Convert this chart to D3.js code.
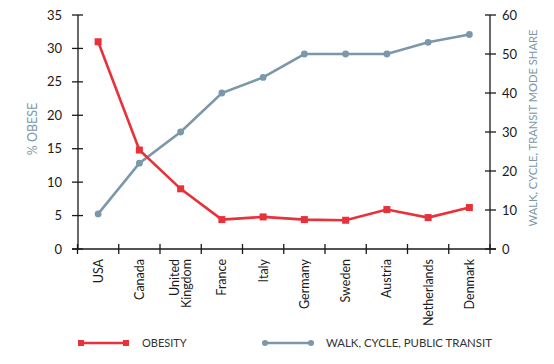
<!DOCTYPE html>
<html>
<head>
<meta charset="utf-8">
<script src="https://cdn.jsdelivr.net/npm/d3@7"></script>
<style>
  body { margin: 0; background: #fff; }
  text { font-family: Lato, "Open Sans", sans-serif; }
</style>
</head>
<body>
<script>
// data
var countries = ["USA", "Canada", "United Kingdom", "France", "Italy", "Germany", "Sweden", "Austria", "Netherlands", "Denmark"];
var obesity = [31.0, 14.8, 9.0, 4.4, 4.8, 4.4, 4.3, 5.9, 4.7, 6.2];
var walkCycleTransit = [9, 22, 30, 40, 44, 50, 50, 50, 53, 55];
var leftTicks = [0, 5, 10, 15, 20, 25, 30, 35];
var rightTicks = [0, 10, 20, 30, 40, 50, 60];

var red = "#e8313b", blue = "#7b97aa", ink = "#1a1a1a";

var svg = d3.select("body").append("svg")
  .attr("width", 554)
  .attr("height", 364);

var x = d3.scaleBand().domain(countries).range([77.5, 490]);
var yLeft = d3.scaleLinear().domain([0, 35]).range([249, 15]);
var yRight = d3.scaleLinear().domain([0, 60]).range([249, 15]);
var cx = function (d, i) { return x(countries[i]) + x.bandwidth() / 2; };

// x axis with crossing ticks
var xAxis = svg.append("g").attr("transform", "translate(0,249)");
xAxis.append("line").attr("x1", 72).attr("x2", 496).attr("stroke", ink).attr("stroke-width", 1.3);
xAxis.selectAll(".tick")
  .data(x.domain().map(function (d) { return x(d); }).concat([490]))
  .enter().append("line")
  .attr("x1", function (d) { return d; }).attr("x2", function (d) { return d; })
  .attr("y1", -5).attr("y2", 5)
  .attr("stroke", ink).attr("stroke-width", 1.3);

var labels = xAxis.selectAll(".lbl")
  .data(countries)
  .enter().append("text")
  .attr("transform", function (d) { return "translate(" + (x(d) + x.bandwidth() / 2) + ",10) rotate(-90)"; })
  .attr("text-anchor", "end")
  .attr("font-size", 12.5)
  .attr("fill", ink);
labels.each(function (d) {
  var words = d.split(" ");
  var t = d3.select(this);
  words.forEach(function (w, k) {
    t.append("tspan").attr("x", 0)
      .attr("dy", k === 0 ? (words.length > 1 ? "-0.15em" : "0.35em") : "0.95em")
      .text(w);
  });
});

// left axis
var gl = svg.append("g").attr("transform", "translate(78,0)");
gl.append("line").attr("y1", 15).attr("y2", 249).attr("stroke", ink).attr("stroke-width", 1.3);
gl.selectAll(".t").data(leftTicks).enter().append("line")
  .attr("x1", -6).attr("x2", 5)
  .attr("y1", yLeft).attr("y2", yLeft)
  .attr("stroke", ink).attr("stroke-width", 1.3);
gl.selectAll(".l").data(leftTicks).enter().append("text")
  .attr("x", -16).attr("y", yLeft).attr("dy", "0.35em")
  .attr("text-anchor", "end").attr("font-size", 13).attr("fill", ink)
  .text(function (d) { return d; });

// right axis
var gr = svg.append("g").attr("transform", "translate(490,0)");
gr.append("line").attr("y1", 15).attr("y2", 249).attr("stroke", ink).attr("stroke-width", 1.3);
gr.selectAll(".t").data(rightTicks).enter().append("line")
  .attr("x1", -5).attr("x2", 6)
  .attr("y1", yRight).attr("y2", yRight)
  .attr("stroke", ink).attr("stroke-width", 1.3);
gr.selectAll(".l").data(rightTicks).enter().append("text")
  .attr("x", 12).attr("y", yRight).attr("dy", "0.35em")
  .attr("text-anchor", "start").attr("font-size", 13).attr("fill", ink)
  .text(function (d) { return d; });

// axis titles
svg.append("text")
  .attr("transform", "translate(37,129) rotate(-90)")
  .attr("text-anchor", "middle").attr("font-size", 12.5).attr("fill", blue)
  .text("% OBESE");
svg.append("text")
  .attr("transform", "translate(537,128) rotate(-90)")
  .attr("text-anchor", "middle").attr("font-size", 11.2).attr("fill", blue)
  .text("WALK, CYCLE, TRANSIT MODE SHARE");

// walk / cycle / transit line
var lineR = d3.line().x(cx).y(function (d) { return yRight(d); });
svg.append("path").datum(walkCycleTransit)
  .attr("d", lineR).attr("fill", "none")
  .attr("stroke", blue).attr("stroke-width", 2.6);
svg.selectAll(".dot").data(walkCycleTransit).enter().append("circle")
  .attr("cx", cx).attr("cy", function (d) { return yRight(d); })
  .attr("r", 3.4).attr("fill", blue);

// obesity line
var lineL = d3.line().x(cx).y(function (d) { return yLeft(d); });
svg.append("path").datum(obesity)
  .attr("d", lineL).attr("fill", "none")
  .attr("stroke", red).attr("stroke-width", 2.6);
svg.selectAll(".sq").data(obesity).enter().append("rect")
  .attr("x", function (d, i) { return cx(d, i) - 3.5; })
  .attr("y", function (d) { return yLeft(d) - 3.5; })
  .attr("width", 7).attr("height", 7).attr("fill", red);

// legend
var leg = svg.append("g");
leg.append("line").attr("x1", 81).attr("x2", 126).attr("y1", 343).attr("y2", 343)
  .attr("stroke", red).attr("stroke-width", 2.6);
leg.selectAll(".ls").data([81, 126]).enter().append("rect")
  .attr("x", function (d) { return d - 3; }).attr("y", 340)
  .attr("width", 6).attr("height", 6).attr("fill", red);
leg.append("text").attr("x", 142).attr("y", 343).attr("dy", "0.35em")
  .attr("font-size", 11).attr("fill", "#333").text("OBESITY");

leg.append("line").attr("x1", 265).attr("x2", 311).attr("y1", 343).attr("y2", 343)
  .attr("stroke", blue).attr("stroke-width", 2.6);
leg.selectAll(".lc").data([265, 311]).enter().append("circle")
  .attr("cx", function (d) { return d; }).attr("cy", 343)
  .attr("r", 3).attr("fill", blue);
leg.append("text").attr("x", 326).attr("y", 343).attr("dy", "0.35em")
  .attr("font-size", 11.4).attr("fill", "#333").text("WALK, CYCLE, PUBLIC TRANSIT");
</script>
</body>
</html>
